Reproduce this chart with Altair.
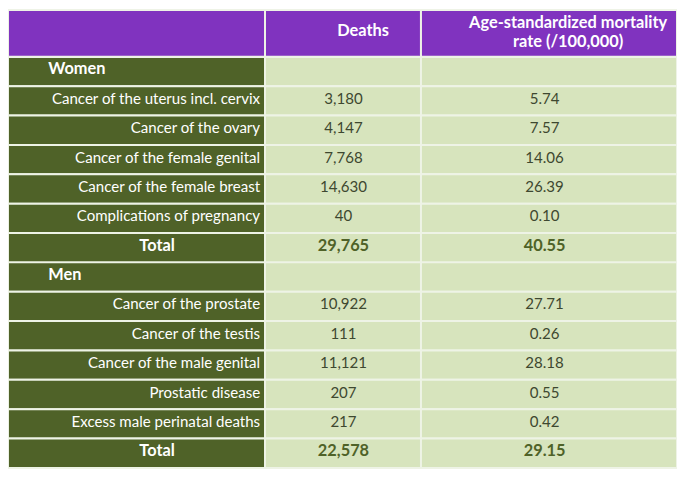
import altair as alt
import pandas as pd

# ---- table content ----
labels = ["Women", "Cancer of the uterus incl. cervix", "Cancer of the ovary",
          "Cancer of the female genital", "Cancer of the female breast",
          "Complications of pregnancy", "Total", "Men", "Cancer of the prostate",
          "Cancer of the testis", "Cancer of the male genital", "Prostatic disease",
          "Excess male perinatal deaths", "Total"]
kinds = ["section", "item", "item", "item", "item", "item", "total",
         "section", "item", "item", "item", "item", "item", "total"]
deaths = [None, 3180, 4147, 7768, 14630, 40, 29765,
          None, 10922, 111, 11121, 207, 217, 22578]
rates = [None, 5.74, 7.57, 14.06, 26.39, 0.10, 40.55,
         None, 27.71, 0.26, 28.18, 0.55, 0.42, 29.15]
header_deaths = "Deaths"
header_rate = ["Age-standardized mortality", "rate (/100,000)"]

df = pd.DataFrame({"idx": list(range(len(labels))), "label": labels,
                   "kind": kinds, "deaths": deaths, "rate": rates})

# ---- layout (table units) ----
COL = [1, 263, 422, 683]          # column edges
HEAD_H = 48                       # header row height
TABLE_H = 470
ROW_H = (TABLE_H - HEAD_H) / len(labels)

# ---- styling ----
PURPLE = "#8033BF"
DARK = "#4F6228"
LIGHT = "#D7E4BD"
LINE = "#EEF3E6"
VAL = "#3E4830"
FONT = "Lato"
FS = 15.2
FSB = 16.5

XS = alt.Scale(domain=[COL[0], COL[-1]], nice=False, zero=False)
YS = alt.Scale(domain=[0, TABLE_H], nice=False, zero=False, reverse=True)


def xd(v):
    return alt.XDatum(v, scale=XS, axis=None, type="quantitative")


def yd(v):
    return alt.YDatum(v, scale=YS, axis=None, type="quantitative")


body = alt.Chart(df).transform_calculate(
    top=f"{HEAD_H} + datum.idx * {ROW_H}",
    bot=f"{HEAD_H} + (datum.idx + 1) * {ROW_H}",
    mid=f"{HEAD_H} + (datum.idx + 0.5) * {ROW_H}",
)
YT = alt.Y("top:Q", scale=YS, axis=None)
YM = alt.Y("mid:Q", scale=YS, axis=None)

layers = []
fills = [DARK, LIGHT, LIGHT]
for c in range(3):
    layers.append(body.mark_rect(fill=fills[c], stroke=LINE, strokeWidth=2).encode(
        x=xd(COL[c]), x2=alt.X2Datum(COL[c + 1]), y=YT, y2="bot:Q"))

hdr = alt.Chart(alt.Data(values=[{"t": ""}, {"t": header_deaths}, {"t": header_rate}]))
for c in range(3):
    layers.append(hdr.mark_rect(fill=PURPLE, stroke=LINE, strokeWidth=2).encode(
        x=xd(COL[c]), x2=alt.X2Datum(COL[c + 1]), y=yd(0), y2=alt.Y2Datum(HEAD_H)))

hdr_text = dict(font=FONT, fontSize=FSB, fontWeight="bold", color="white",
                align="center", baseline="middle", lineHeight=20)
layers.append(alt.Chart(alt.Data(values=[{"t": header_deaths}])).mark_text(**hdr_text).encode(
    x=xd(363), y=yd(22), text="t:N"))
layers.append(alt.Chart(alt.Data(values=[{"t": header_rate}])).mark_text(**hdr_text).encode(
    x=xd(572), y=yd(13), text="t:N"))

# first column labels
layers.append(body.transform_filter("datum.kind == 'section'").mark_text(
    font=FONT, fontSize=FSB, fontWeight="bold", color="white", align="left",
    baseline="middle", dy=-2).encode(x=xd(42), y=YM, text="label:N"))
layers.append(body.transform_filter("datum.kind == 'item'").mark_text(
    font=FONT, fontSize=FS, color="white", align="right",
    baseline="middle", dy=-2).encode(x=xd(258), y=YM, text="label:N"))
layers.append(body.transform_filter("datum.kind == 'total'").mark_text(
    font=FONT, fontSize=FSB, fontWeight="bold", color="white", align="center",
    baseline="middle", dy=-2).encode(x=xd(153), y=YM, text="label:N"))

# value columns
for field, fmt, xc in [("deaths", ",", 343), ("rate", ".2f", 548)]:
    layers.append(body.transform_filter("datum.kind == 'item'").mark_text(
        font=FONT, fontSize=FS, color=VAL, align="center", baseline="middle", dy=-2
    ).encode(x=xd(xc), y=YM, text=alt.Text(f"{field}:Q", format=fmt)))
    layers.append(body.transform_filter("datum.kind == 'total'").mark_text(
        font=FONT, fontSize=FSB, fontWeight="bold", color=DARK, align="center",
        baseline="middle", dy=-2
    ).encode(x=xd(xc), y=YM, text=alt.Text(f"{field}:Q", format=fmt)))

chart = alt.layer(*layers).properties(
    width=675, height=462, padding=0, background="white",
    autosize=alt.AutoSizeParams(type="none")
).configure_view(stroke=None)

chart.save("out.html", embed_options={"renderer": "svg", "actions": False})
